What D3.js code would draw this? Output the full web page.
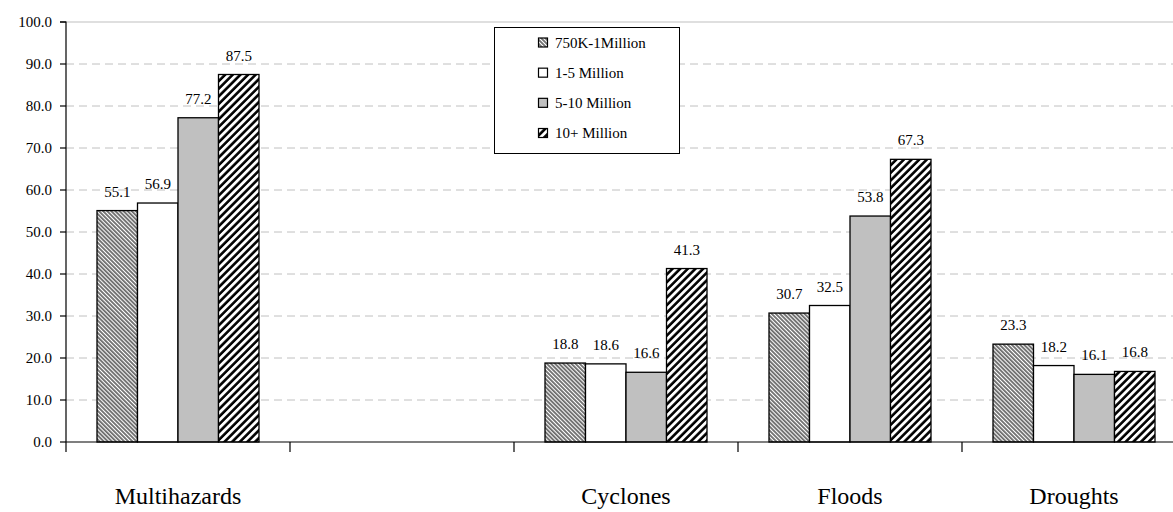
<!DOCTYPE html>
<html><head><meta charset="utf-8">
<script src="https://cdn.jsdelivr.net/npm/d3@7"></script>
</head>
<body style="margin:0">
<svg id="s" width="1173" height="512"></svg>
<script>
const categories = ["Multihazards", "", "Cyclones", "Floods", "Droughts"];
const seriesNames = ["750K-1Million", "1-5 Million", "5-10 Million", "10+ Million"];
const s750K = [55.1, null, 18.8, 30.7, 23.3];
const s1to5 = [56.9, null, 18.6, 32.5, 18.2];
const s5to10 = [77.2, null, 16.6, 53.8, 16.1];
const s10plus = [87.5, null, 41.3, 67.3, 16.8];
const yTicks = [0, 10, 20, 30, 40, 50, 60, 70, 80, 90, 100];

const series = [s750K, s1to5, s5to10, s10plus];
const fills = ["url(#hatchThin)", "#ffffff", "#c0c0c0", "url(#hatchThick)"];
const F = '"Times New Roman", Tinos, "Liberation Serif", FreeSerif, serif';

const svg = d3.select("#s");
const mLeft = 66, mTop = 22, mBottom = 442, bandW = 224;
const x = d3.scaleBand().domain(d3.range(categories.length)).range([mLeft, mLeft + bandW * categories.length]);
const y = d3.scaleLinear().domain([0, 100]).range([mBottom, mTop]);
const barW = 40.5;
const x1 = d3.scaleBand().domain(d3.range(4)).range([0, barW * 4]);
const fmt = d3.format(".1f");

const defs = svg.append("defs");
const p1 = defs.append("pattern").attr("id", "hatchThin").attr("patternUnits", "userSpaceOnUse")
  .attr("width", 6).attr("height", 2.9).attr("patternTransform", "rotate(45)");
p1.append("rect").attr("width", 6).attr("height", 2.9).attr("fill", "#fff");
p1.append("line").attr("x1", 0).attr("x2", 6).attr("y1", 1).attr("y2", 1).attr("stroke", "#303030").attr("stroke-width", 1.3);
const p2 = defs.append("pattern").attr("id", "hatchThick").attr("patternUnits", "userSpaceOnUse")
  .attr("width", 8).attr("height", 5.4).attr("patternTransform", "rotate(-45)");
p2.append("rect").attr("width", 8).attr("height", 5.4).attr("fill", "#fff");
p2.append("line").attr("x1", 0).attr("x2", 8).attr("y1", 1.4).attr("y2", 1.4).attr("stroke", "#000").attr("stroke-width", 2.6);

// gridlines
yTicks.filter(d => d > 0 && d < 100).forEach(d => {
  svg.append("line").attr("x1", mLeft).attr("x2", 1173).attr("y1", y(d)).attr("y2", y(d))
    .attr("stroke", "#c0c0c0").attr("stroke-width", 1).attr("stroke-dasharray", "8,5");
});
svg.append("line").attr("x1", mLeft).attr("x2", 1173).attr("y1", y(100)).attr("y2", y(100))
  .attr("stroke", "#c0c0c0").attr("stroke-width", 1.2);

// bars and value labels
categories.forEach((c, ci) => {
  const gx = x(ci) + (x.bandwidth() - barW * 4) / 2;
  series.forEach((s, si) => {
    const v = s[ci];
    if (v == null) return;
    svg.append("rect").attr("x", gx + x1(si)).attr("width", x1.bandwidth()).attr("y", y(v)).attr("height", y(0) - y(v))
      .attr("fill", fills[si]).attr("stroke", "#000").attr("stroke-width", 1.3);
    svg.append("text").attr("x", gx + x1(si) + x1.bandwidth() / 2).attr("y", y(v) - 14)
      .attr("text-anchor", "middle").attr("font-size", 15).attr("font-family", F).style("font-family", F)
      .text(fmt(v));
  });
});

// y axis line and ticks
svg.append("path").attr("d", `M${mLeft - 6},${mTop}H${mLeft}V${mBottom}`).attr("fill", "none").attr("stroke", "#000").attr("stroke-width", 1.2);
yTicks.forEach(d => {
  svg.append("line").attr("x1", mLeft - 6).attr("x2", mLeft).attr("y1", y(d)).attr("y2", y(d)).attr("stroke", "#000").attr("stroke-width", 1.2);
  svg.append("text").attr("x", mLeft - 14).attr("y", y(d) + 5).attr("text-anchor", "end")
    .attr("font-size", 15).attr("font-family", F).style("font-family", F).text(fmt(d));
});

// x axis
svg.append("line").attr("x1", mLeft).attr("x2", 1186).attr("y1", mBottom).attr("y2", mBottom).attr("stroke", "#000").attr("stroke-width", 1.2);
d3.range(categories.length + 1).forEach(i => {
  const tx = i < categories.length ? x(i) : x(categories.length - 1) + x.bandwidth();
  svg.append("line").attr("x1", tx).attr("x2", tx).attr("y1", mBottom).attr("y2", mBottom + 10).attr("stroke", "#000").attr("stroke-width", 1.2);
});
categories.forEach((c, i) => {
  svg.append("text").attr("x", x(i) + x.bandwidth() / 2).attr("y", 504)
    .attr("text-anchor", "middle").attr("font-size", 24).attr("font-family", F).style("font-family", F).text(c);
});

// legend
svg.append("rect").attr("x", 494.5).attr("y", 27.5).attr("width", 185).attr("height", 126)
  .attr("fill", "#fff").attr("stroke", "#000").attr("stroke-width", 1);
const ly = d3.scalePoint().domain(seriesNames).range([42.5, 133]);
seriesNames.forEach((n, i) => {
  svg.append("rect").attr("x", 538.5).attr("y", ly(n) - 4.5).attr("width", 9).attr("height", 9)
    .attr("fill", fills[i]).attr("stroke", "#000").attr("stroke-width", 1.2);
  svg.append("text").attr("x", 555).attr("y", ly(n) + 5).attr("font-size", 15)
    .attr("font-family", F).style("font-family", F).text(n);
});
</script></body></html>
